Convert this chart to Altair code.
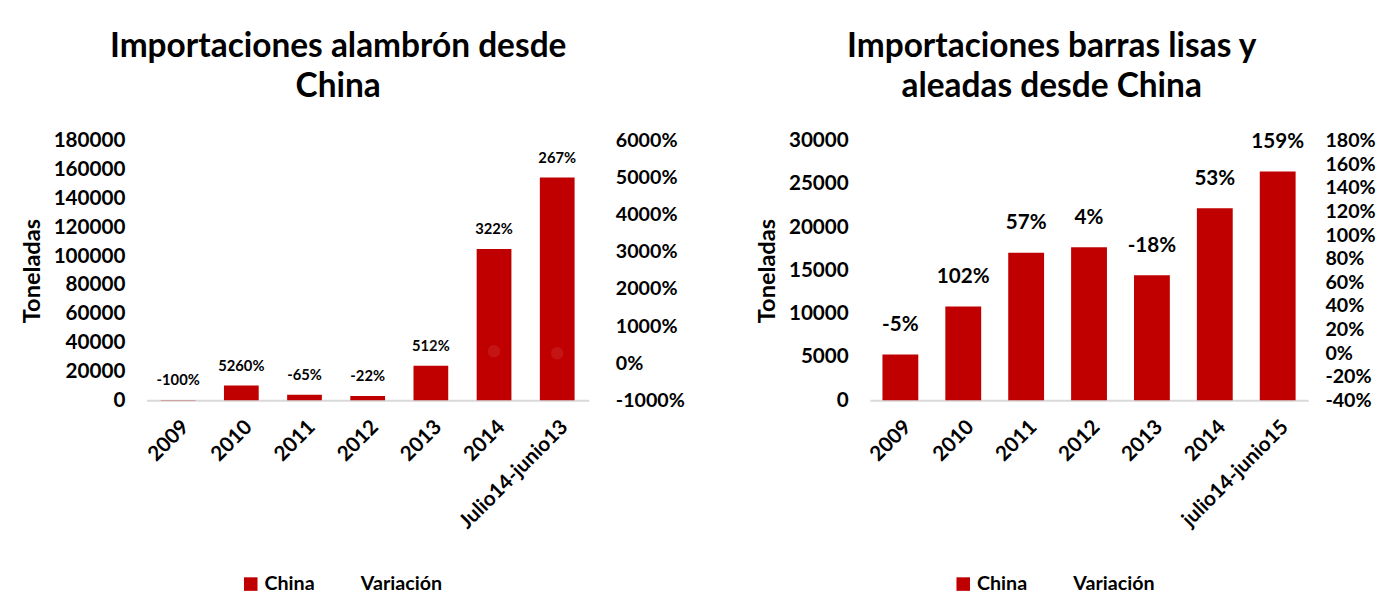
import altair as alt
import pandas as pd

# ---- data ----
cats1 = ["2009", "2010", "2011", "2012", "2013", "2014", "Julio14-junio13"]
tons1 = [190, 10300, 3800, 2900, 24000, 105000, 154500]
var1 = [-100, 5260, -65, -22, 512, 322, 267]

cats2 = ["2009", "2010", "2011", "2012", "2013", "2014", "julio14-junio15"]
tons2 = [5300, 10850, 17050, 17700, 14450, 22200, 26450]
var2 = [-5, 102, 57, 4, -18, 53, 159]

title1 = ["Importaciones alambrón desde", "China"]
title2 = ["Importaciones barras lisas y", "aleadas desde China"]

RED = "#C00000"
FONT = "Lato"


def make_chart(cats, tons, var, title, tdom, tstep, vdom, vstep, width,
               pinner, pouter, lab_size, lab_dy, legx, tdx, rpad, pt_op):
    df = pd.DataFrame({
        "cat": cats, "tons": tons, "var": var,
        "lab": [f"{v}%" for v in var], "serie": ["China"] * len(cats),
    })
    x = alt.X("cat:N", sort=cats, title=None,
              scale=alt.Scale(paddingInner=pinner, paddingOuter=pouter),
              axis=alt.Axis(labelAngle=-45, labelFontSize=21, labelFont=FONT,
                            labelFontWeight="bold", labelColor="black",
                            ticks=False, domainColor="#d9d9d9", domainWidth=2,
                            labelPadding=16))
    y = alt.Y("tons:Q", scale=alt.Scale(domain=tdom, nice=False, zero=True),
              title="Toneladas",
              axis=alt.Axis(values=list(range(tdom[0], tdom[1] + 1, tstep)),
                            format="d", labelOverlap=False,
                            grid=False, domain=False, ticks=False,
                            labelFontSize=21, labelFont=FONT,
                            labelFontWeight="bold", labelColor="black",
                            labelPadding=22, titleFontSize=24,
                            titleFont=FONT, titleFontWeight="bold",
                            titleColor="black", titlePadding=9))
    bars = alt.Chart(df).mark_bar().encode(
        x=x, y=y,
        color=alt.Color("serie:N",
                        scale=alt.Scale(domain=["China", "Variación"],
                                        range=[RED, "rgba(255,255,255,0)"]),
                        legend=alt.Legend(orient="none", legendX=legx,
                                          legendY=441, direction="horizontal",
                                          title=None, symbolType="square",
                                          symbolSize=190, labelFontSize=20,
                                          labelFont=FONT,
                                          labelFontWeight="bold",
                                          labelColor="black",
                                          columnPadding=22)),
    )
    text = alt.Chart(df).mark_text(dy=-lab_dy, fontSize=lab_size, font=FONT,
                                   fontWeight="bold", color="black").encode(
        x=x, y=y, text="lab:N",
    )
    pts = alt.Chart(df).mark_point(filled=True, size=160, color="white",
                                   opacity=pt_op).encode(
        x=x,
        y=alt.Y("var:Q", scale=alt.Scale(domain=vdom, nice=False, zero=False),
                title=None,
                axis=alt.Axis(orient="right",
                              values=list(range(vdom[0], vdom[1] + 1, vstep)),
                              labelExpr="datum.value + '%'", grid=False,
                              labelOverlap=False,
                              domain=False, ticks=False, labelFontSize=20,
                              labelFont=FONT, labelFontWeight="bold",
                              labelColor="black", labelPadding=rpad)),
    )
    return alt.layer(alt.layer(bars, text), pts).resolve_scale(
        y="independent").properties(
        width=width, height=264,
        view=alt.ViewBackground(stroke="transparent", strokeWidth=0),
        title=alt.TitleParams(text=title, fontSize=34, font=FONT,
                              fontWeight="bold", color="black",
                              anchor="middle", dx=tdx, lineHeight=40,
                              offset=27),
    )


c1 = make_chart(cats1, tons1, var1, title1, [0, 180000], 20000,
                [-1000, 6000], 1000, 450, 0.45, 0.225, 15, 20, 96, -30, 27,
                0.08)
c2 = make_chart(cats2, tons2, var2, title2, [0, 30000], 5000,
                [-40, 180], 20, 446, 0.43, 0.2, 21, 30, 85, -38, 17, 0.0)

chart = alt.hconcat(c1, c2, spacing=72).resolve_scale(
    color="independent").properties(
    padding={"top": 18, "left": 12, "right": 0, "bottom": 0}
).configure_view(stroke="transparent", strokeWidth=0).configure(
    background="white")

chart.save("out.html", embed_options={"renderer": "svg", "actions": False})
